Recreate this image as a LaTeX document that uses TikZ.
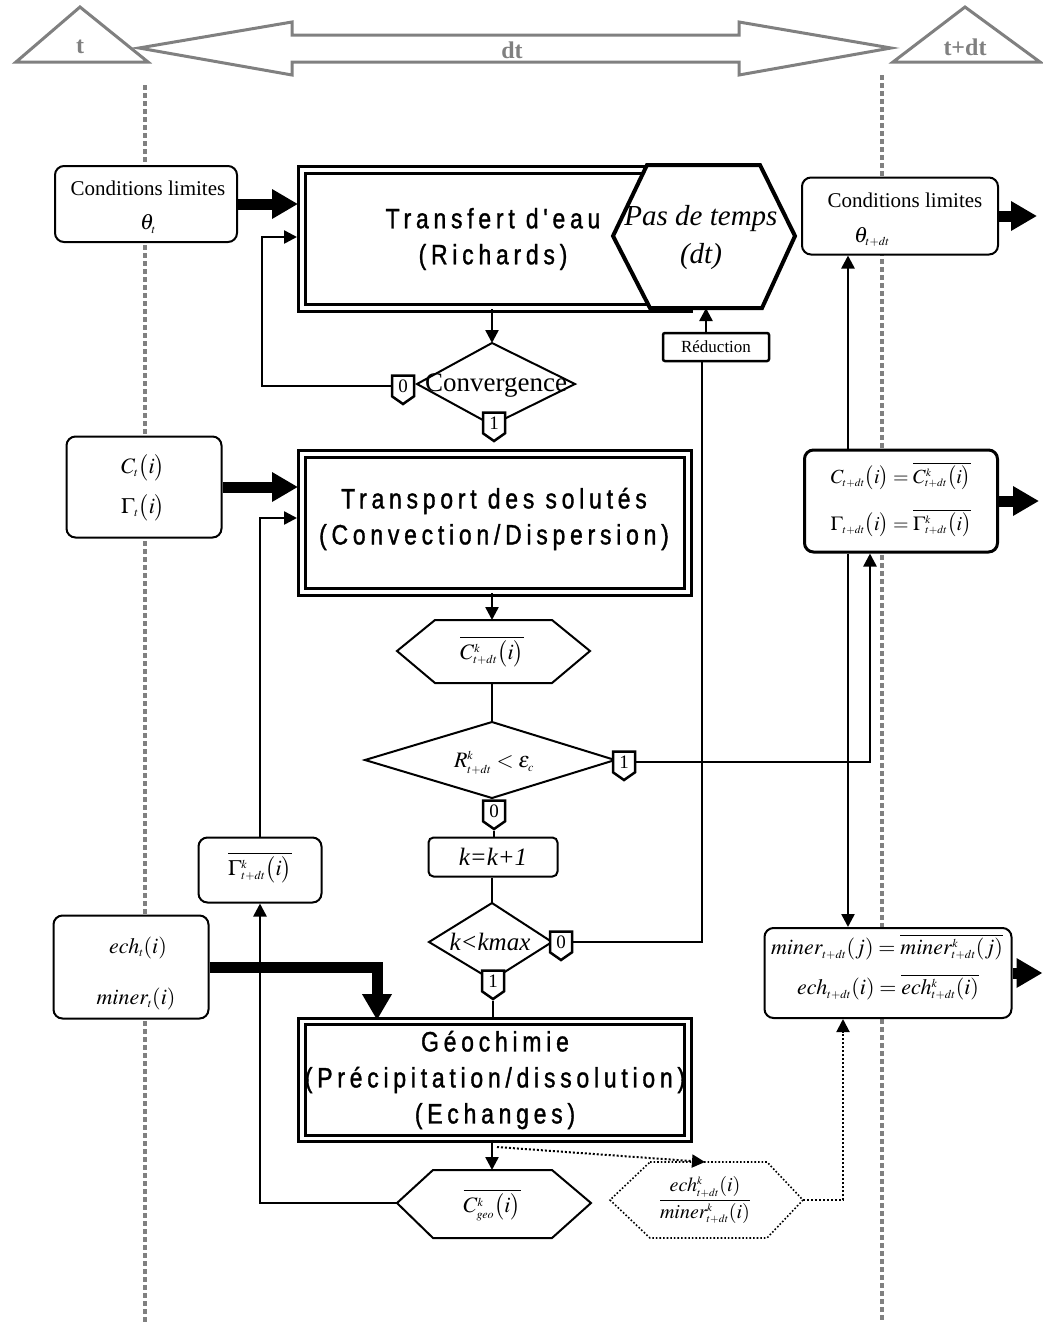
\documentclass[tikz,border=0pt]{standalone}
\usepackage{mathptmx}
\usepackage{fontspec}
\setmainfont{Liberation Serif}
\newfontfamily\boxfont[LetterSpace=17,FakeStretch=0.82,FakeBold=1.2]{Liberation Sans}
\DeclareMathSizes{22}{22}{12}{9}
\DeclareMathSizes{20}{20}{11}{8}
\usetikzlibrary{arrows.meta,shapes.symbols}
\tikzset{
 guide/.style={draw=gray, line width=4pt, dash pattern=on 5pt off 3pt},
 hdr/.style={draw=gray, line width=3pt, line join=miter},
 hdrtxt/.style={text=gray, font=\fontsize{24}{24}\selectfont\bfseries, inner sep=0},
 con/.style={line width=2.5pt},
 arr/.style={con, -{Triangle[length=13pt,width=13pt]}},
 dotarr/.style={line width=2pt, dotted, -{Triangle[length=13pt,width=13pt]}},
 fat/.style={line width=11pt, -{Triangle[length=26pt,width=28pt]}},
 rbox/.style={draw, rounded corners=9pt, line width=2pt, fill=white, inner sep=0},
 dbox/.style={draw, line width=2.8pt, double distance=3.5pt, fill=white, inner sep=0},
 poly/.style={draw, line width=2pt, fill=white, line join=miter},
 tagbox/.style={signal, signal to=south, signal pointer angle=110, draw, line width=2.5pt, fill=white, inner sep=1.5pt, minimum width=22pt, minimum height=25pt, font=\fontsize{19}{19}\selectfont},
 txt/.style={font=\fontsize{21}{21}\selectfont, inner sep=0},
 mth/.style={font=\fontsize{22}{24}\selectfont, inner sep=0},
 mths/.style={font=\fontsize{20}{24}\selectfont, inner sep=0},
 ttl/.style={font=\boxfont\fontsize{28}{36}\selectfont, align=center, inner sep=0},
}
\begin{document}
\begin{tikzpicture}[x=1pt,y=-1pt]
\useasboundingbox (0,0) rectangle (1042,1323);
\fill[white] (0,0) rectangle (1042,1323);

% time guides
\draw[guide] (145,85) -- (145,1323);
\draw[guide] (882,75) -- (882,1323);

% header
\draw[hdr] (16,62) -- (80,7) -- (148,62) -- cycle;
\draw[hdr] (893,62) -- (965,7) -- (1040,62) -- cycle;
\draw[hdr] (139,48) -- (292,22) -- (292,35) -- (739,35) -- (739,22) -- (891,48) -- (739,75) -- (739,62) -- (292,62) -- (292,75) -- cycle;
\node[hdrtxt] (tt) at (80,47) {t};
\node[hdrtxt] (dtt) at (512,50) {dt};
\node[hdrtxt] (tdt) at (965,47) {t+dt};

% coordinates
\coordinate (trIn) at (297,237);
\coordinate (trOut) at (298,0);
\coordinate (trsIn) at (297,518);
\coordinate (hexPin) at (706,308);
\coordinate (redOut) at (702,361);
\coordinate (cvT) at (492,343);
\coordinate (cvR) at (575,384);
\coordinate (cvB) at (492,425);
\coordinate (cvL) at (417,384);
\coordinate (cT) at (492,620);
\coordinate (cB) at (492,683);
\coordinate (rT) at (492,722);
\coordinate (rR) at (615,760);
\coordinate (rB) at (492,798);
\coordinate (rL) at (365,760);
\coordinate (kmT) at (492,903);
\coordinate (kmR) at (552,942);
\coordinate (kmB) at (492,980);
\coordinate (kmL) at (429,942);
\coordinate (cgT) at (492,1170);
\coordinate (geoOut) at (497,1147);
\coordinate (dhIn) at (705,1162);
\coordinate (xR) at (848,0);
\coordinate (xR2) at (870,0);
\coordinate (xR3) at (843,0);
\coordinate (xL) at (262,0);
\coordinate (xG) at (377,0);

% left input boxes
\node[rbox, minimum width=182, minimum height=76] (cl1) at (146,204) {};
\node[txt] (cl1a) at (148,188) {Conditions limites};
\node[mth] (cl1b) at (148,224) {$\theta_t$};

\node[rbox, minimum width=155, minimum height=101] (cbl) at (144,487) {};
\node[mth] (ctl) at (143,468) {$C_t\bigl(i\bigr)$};
\node[mth] (gtl) at (143,508) {$\Gamma_t\bigl(i\bigr)$};

\node[rbox, minimum width=155, minimum height=103] (ebl) at (131,967) {};
\node[mth] (ecl) at (138,948) {$ech_t(i)$};
\node[mth] (mil) at (136,999) {$miner_t(i)$};

\node[rbox, minimum width=123, minimum height=65] (ghat) at (260,870) {};
\node[mth] (ghatt) at (260,868) {$\overline{\Gamma^{k}_{t+dt}\bigl(i\bigr)}$};

% right output boxes
\node[rbox, minimum width=196, minimum height=77] (cl2) at (900,216) {};
\node[txt] (cl2a) at (905,200) {Conditions limites};
\node[mth] (cl2b) at (872,237) {$\theta_{t+dt}$};

\node[rbox, line width=3pt, minimum width=193, minimum height=102] (cbr) at (901,501) {};
\node[mths] (crr) at (901,476) {$C_{t+dt}\bigl(i\bigr)=\overline{C^{k}_{t+dt}\bigl(i\bigr)}$};
\node[mths] (grr) at (901,523) {$\Gamma_{t+dt}\bigl(i\bigr)=\overline{\Gamma^{k}_{t+dt}\bigl(i\bigr)}$};

\node[rbox, minimum width=247, minimum height=90] (mbr) at (888,973) {};
\node[mth] (mir) at (887,947) {$miner_{t+dt}(j)=\overline{miner^{k}_{t+dt}(j)}$};
\node[mth] (ecr) at (888,987) {$ech_{t+dt}(i)=\overline{ech^{k}_{t+dt}(i)}$};

% Transfert
\node[dbox, minimum width=386, minimum height=138] (transfert) at (495,239) {};
\draw[poly, line width=4pt] (647,165) -- (760,165) -- (795,236) -- (762,308) -- (650,308) -- (613,236) -- cycle;
\node[ttl] (transfertT) at (493,239) {Transfert d'eau\\(Richards)};
\node[font=\itshape\fontsize{29}{38}\selectfont, align=center, inner sep=0] (pdt) at (701,238) {Pas de temps\\(dt)};

\node[draw, line width=2.5pt, rounded corners=2pt, minimum width=106, minimum height=28, font=\fontsize{17}{17}\selectfont, inner sep=0, fill=white] (red) at (716,347) {Réduction};

% convergence
\draw[poly] (cvT) -- (cvR) -- (cvB) -- (cvL) -- cycle;
\node[font=\fontsize{27}{27}\selectfont, inner sep=0] (conv) at (496,385) {Convergence};

% Transport
\node[dbox, minimum width=386, minimum height=138] (transport) at (495,523) {};
\node[ttl] (transportT) at (494,519) {Transport des solutés\\(Convection/Dispersion)};

% hex C
\draw[poly] (435,620) -- (552,620) -- (590,651) -- (552,683) -- (435,683) -- (397,651) -- cycle;
\node[mth] (chex) at (492,652) {$\overline{C^{k}_{t+dt}\bigl(i\bigr)}$};

% diamond R
\draw[poly] (rT) -- (rR) -- (rB) -- (rL) -- cycle;
\node[mth] (rtxt) at (494,763) {$R^{k}_{t+dt}<\varepsilon_c$};

% k box
\node[rbox, rounded corners=5pt, minimum width=129, minimum height=39] (kk) at (493,857) {};
\node[font=\itshape\fontsize{25}{25}\selectfont, inner sep=0] (kkt) at (493,857) {k=k+1};

% kmax diamond
\draw[poly] (kmT) -- (kmR) -- (kmB) -- (kmL) -- cycle;
\node[font=\itshape\fontsize{25}{25}\selectfont, inner sep=0] (kmt) at (490,942) {k<kmax};

% Geochimie
\node[dbox, minimum width=386, minimum height=117] (geo) at (495,1080) {};
\node[ttl] (geoT) at (495,1080) {Géochimie\\(Précipitation/dissolution)\\(Echanges)};

% hex Cgeo
\draw[poly] (433,1170) -- (552,1170) -- (591,1203) -- (552,1238) -- (433,1238) -- (397,1203) -- cycle;
\coordinate (cgL) at (397,1203);
\node[mth] (cgt) at (492,1205) {$\overline{C^{k}_{geo}\bigl(i\bigr)}$};

% dotted hex
\draw[line width=1.6pt, dotted, fill=white] (650,1162) -- (767,1162) -- (803,1200) -- (767,1238) -- (650,1238) -- (610,1200) -- cycle;
\coordinate (dhR) at (803,1200);
\node[font=\fontsize{20}{20}\selectfont, inner sep=0] (dht) at (705,1200) {$\displaystyle\frac{ech^{k}_{t+dt}(i)}{miner^{k}_{t+dt}(i)}$};

% tags
\node[tagbox] (cv0) at (403,386) {0};
\node[tagbox] (cv1) at (494,423) {1};
\node[tagbox] (r1) at (624,762) {1};
\node[tagbox] (r0) at (494,811) {0};
\node[tagbox] (km0) at (561,942) {0};
\node[tagbox] (km1) at (493,981) {1};

% connectors - thin
\draw[arr] (transfert.south -| cvT) -- (cvT);
\draw[arr] (red.north -| hexPin) -- (hexPin);
\draw[con] (km0.east) -| (redOut);
\draw[arr] (cv0.west) -- (xL |- cv0.west) -- (xL |- trIn) -- (trIn);
\draw[arr] (transport.south -| cT) -- (cT);
\draw[con] (cB) -- (rT);
\draw[con] (r0.south) -- (kk.north -| r0.south);
\draw[con] (kk.south -| kmT) -- (kmT);
\draw[con] (km1.south) -- (geo.north -| km1.south);
\draw[arr] (geo.south -| cgT) -- (cgT);
\draw[arr] (ghat.north) -- (ghat.north |- trsIn) -- (trsIn);
\draw[arr] (cgL) -| (ghat.south);
\draw[arr] (cbr.north -| xR) -- (cl2.south -| xR);
\draw[arr] (cbr.south -| xR) -- (mbr.north -| xR);
\draw[arr] (r1.east) -| (cbr.south -| xR2);
\draw[dotarr] (geoOut) -- (dhIn);
\draw[dotarr] (dhR) -| (mbr.south -| xR3);

% connectors - fat
\draw[fat] (cl1.east) -- (cl1.east -| trOut);
\draw[fat] (cbl.east) -- (cbl.east -| trOut);
\draw[fat, line join=miter] (ebl.east) -- (ebl.east -| xG) -- (geo.north -| xG);
\draw[fat] (cl2.east) -- ++(38,0) coordinate (o1);
\draw[fat] (cbr.east) -- ++(40,0) coordinate (o2);
\draw[fat] (mbr.east) -- ++(30,0) coordinate (o3);
\end{tikzpicture}
\end{document}
